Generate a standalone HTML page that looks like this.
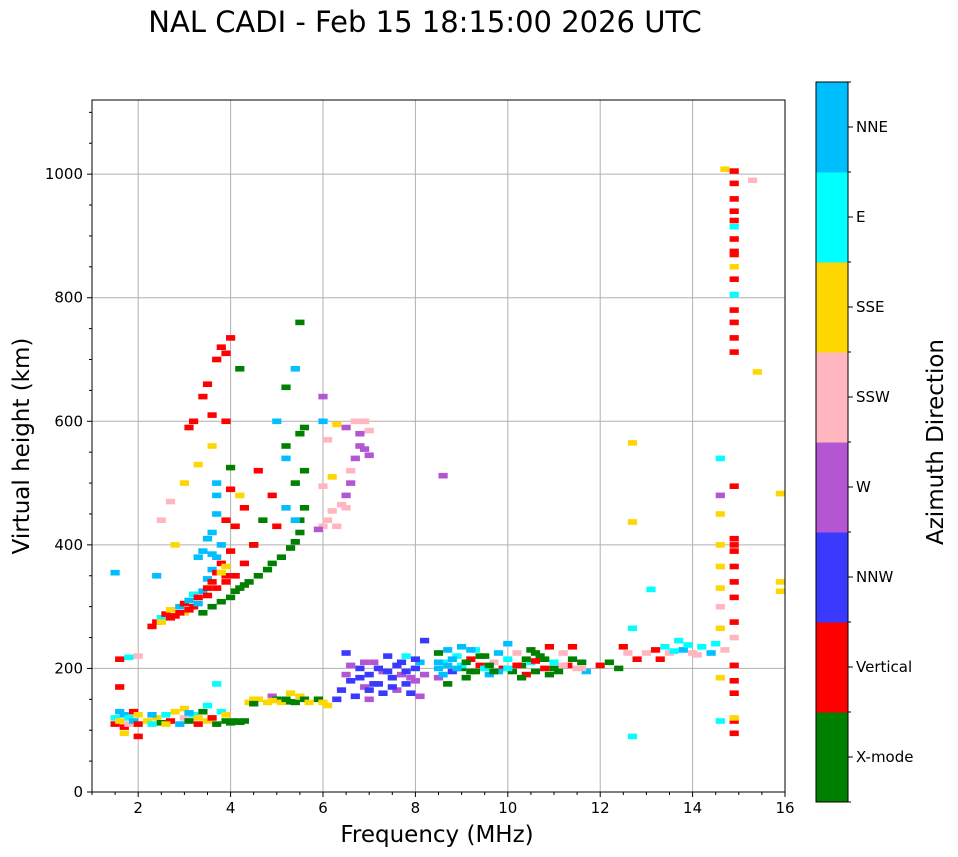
<!DOCTYPE html>
<html><head><meta charset="utf-8">
<style>
html,body{margin:0;padding:0;background:#fff;}
svg{display:block;font-family:"DejaVu Sans","Liberation Sans",sans-serif;}
</style></head>
<body>
<svg id="chart" width="958" height="857" viewBox="0 0 958 857" xmlns="http://www.w3.org/2000/svg">
<text x="425" y="32" font-size="29" text-anchor="middle">NAL CADI - Feb 15 18:15:00 2026 UTC</text>
<g id="grid"></g>
<g id="marks"></g>
<rect x="92" y="100" width="693" height="692" fill="none" stroke="#000" stroke-width="1"/>
<g id="axes"></g>
<text x="437" y="842" font-size="23" text-anchor="middle">Frequency (MHz)</text>
<text transform="translate(29,446) rotate(-90)" font-size="23" text-anchor="middle">Virtual height (km)</text>
<g id="cbar"></g>
<text transform="translate(943,442) rotate(-90)" font-size="23" text-anchor="middle">Azimuth Direction</text>
</svg>
<script>
const azimuthNames = ["X-mode","Vertical","NNW","W","SSW","SSE","E","NNE"];
const azimuthColors = ["#008000","#ff0000","#3a3aff","#b455d4","#ffb6c1","#ffd700","#00ffff","#00bfff"];
const xTicks = [2,4,6,8,10,12,14,16];
const yTicks = [0,200,400,600,800,1000];

const eLayerEchoes = [[1.5,120,6],[1.5,110,1],[1.6,130,7],[1.6,115,5],[1.7,125,7],[1.7,105,1],[1.8,120,6],[1.8,110,4],[1.9,130,1],[1.9,115,7],[2.0,110,1],[2.0,125,5],[2.2,115,5],[2.3,110,6],[2.4,120,5],[2.5,112,0],[2.6,125,6],[2.7,115,1],[2.8,130,5],[2.9,110,7],[3.0,120,4],[3.0,135,5],[3.1,115,0],[3.2,125,6],[3.3,110,1],[3.4,130,0],[3.5,115,5],[3.5,140,6],[3.6,120,1],[3.7,110,0],[3.7,175,6],[3.8,130,6],[3.9,115,0],[4.0,112,0],[4.1,115,0],[4.2,113,0],[4.3,115,0],[4.4,145,5],[4.5,150,5],[4.6,150,5],[4.8,145,5],[4.9,155,3],[5.0,150,0],[5.1,145,5],[5.2,150,0],[5.3,160,5],[5.4,145,0],[5.5,155,5],[5.6,150,0],[5.7,145,5],[5.9,150,0],[6.0,145,5],[6.1,140,5],[1.6,215,1],[1.8,218,6],[2.0,220,4],[2.3,125,7],[2.6,110,5],[3.1,128,7],[3.3,120,5],[3.9,125,5],[4.5,143,0],[4.9,148,5],[5.3,146,0]];
const nnwEchoes = [[6.3,150,2],[6.4,165,2],[6.5,190,3],[6.5,225,2],[6.6,180,2],[6.7,155,2],[6.8,200,2],[6.9,170,3],[7.0,190,2],[7.0,150,3],[7.1,210,3],[7.2,175,2],[7.3,160,2],[7.3,195,3],[7.4,220,2],[7.5,185,2],[7.6,165,3],[7.6,205,2],[7.7,190,3],[7.8,175,2],[7.8,220,6],[7.9,160,2],[8.0,200,2],[8.0,180,3],[8.1,210,7],[8.1,155,3],[8.2,245,2],[8.2,190,3],[6.6,205,3],[7.1,175,2],[7.4,195,2],[7.9,185,3],[6.8,185,2],[7.2,200,2],[7.5,170,2],[7.7,210,2],[7.8,195,2],[8.0,215,2],[7.0,165,2],[6.9,210,3]];
const midFreqEchoes = [[8.5,225,0],[8.5,200,7],[8.5,185,3],[8.6,210,6],[8.7,230,7],[8.7,175,0],[8.8,195,2],[8.9,220,6],[9.0,235,7],[9.0,200,0],[9.1,185,0],[9.2,215,1],[9.3,230,6],[9.3,195,0],[9.4,205,1],[9.5,220,0],[9.6,190,7],[9.7,210,4],[9.8,225,7],[9.9,200,1],[10.0,240,7],[10.0,215,6],[10.1,195,0],[10.2,225,4],[10.3,205,0],[10.4,190,1],[10.5,230,0],[10.5,210,6],[10.6,195,0],[10.7,220,0],[10.8,200,1],[10.9,235,1],[11.0,210,6],[11.1,195,0],[11.2,225,4],[11.3,205,1],[11.4,235,1],[11.5,200,4],[11.6,210,0],[11.7,195,7],[12.0,205,1],[12.2,210,0],[12.4,200,0],[9.0,205,6],[9.5,200,6],[10.6,212,1],[8.5,210,7],[8.7,205,7],[8.9,200,7],[9.1,210,0],[9.2,195,0],[9.4,220,0],[9.6,205,0],[9.8,195,7],[10.0,200,6],[10.2,205,1],[10.4,215,0],[10.6,225,0],[10.8,215,0],[11.0,200,0],[11.2,205,4],[11.4,215,0],[11.6,200,4],[8.6,190,7],[8.8,215,7],[9.2,230,7],[9.7,195,0],[10.3,185,0],[10.9,190,0]];
const upperMidEchoes = [[12.5,235,1],[12.6,225,4],[12.8,215,1],[13.0,225,4],[13.2,230,1],[13.4,235,6],[13.5,225,4],[13.7,245,6],[13.8,230,7],[14.0,225,4],[14.2,235,6],[14.4,225,7],[14.5,240,6],[14.7,230,4],[12.7,265,6],[12.7,90,6],[13.1,328,6],[13.6,228,6],[13.9,238,6],[14.1,222,4],[13.3,215,1]];
const highFreqEchoes = [[14.7,1008,5],[14.9,1005,1],[14.9,985,1],[14.9,960,1],[14.9,940,1],[14.9,915,6],[14.9,895,1],[14.9,875,1],[14.9,850,5],[14.9,830,1],[14.9,805,6],[14.9,780,1],[14.9,760,1],[14.9,735,1],[14.9,712,1],[14.9,495,1],[14.9,410,1],[14.9,390,1],[14.9,365,1],[14.9,340,1],[14.9,315,1],[14.9,275,1],[14.9,250,4],[14.9,205,1],[14.9,180,1],[14.9,160,1],[14.9,115,1],[14.9,95,1],[14.6,540,6],[14.6,480,3],[14.6,450,5],[14.6,400,5],[14.6,365,5],[14.6,330,5],[14.6,300,4],[14.6,265,5],[14.6,185,5],[14.6,115,6],[15.3,990,4],[15.4,680,5],[15.9,483,5],[15.9,340,5],[15.9,325,5],[12.7,565,5],[12.7,437,5],[8.6,512,3],[14.9,925,1],[14.9,870,1],[14.9,400,1],[14.9,120,5]];
const fLayerEchoes = [[3.4,290,0],[3.6,300,0],[3.8,308,0],[4.0,315,0],[4.1,325,0],[4.2,330,0],[4.3,335,0],[4.4,340,0],[4.6,350,0],[4.8,360,0],[4.9,370,0],[5.1,380,0],[5.3,395,0],[5.4,405,0],[5.5,420,0],[5.5,440,0],[5.6,460,0],[5.4,500,0],[5.6,520,0],[5.2,560,0],[5.5,580,0],[5.6,590,0],[5.5,760,0],[4.2,685,0],[4.0,525,0],[4.5,400,0],[5.2,655,0],[4.7,440,0],[2.3,268,1],[2.4,275,1],[2.5,282,6],[2.6,288,1],[2.7,295,5],[2.8,285,1],[2.9,300,7],[3.0,305,1],[3.0,290,5],[3.1,310,7],[3.2,300,1],[3.2,320,6],[3.3,315,1],[3.4,325,7],[3.5,330,1],[3.5,345,7],[3.6,340,1],[3.6,360,7],[3.7,355,1],[3.7,380,7],[3.8,370,1],[3.8,400,7],[3.9,350,1],[3.9,365,5],[3.6,420,7],[3.7,450,7],[3.7,480,7],[3.7,500,7],[3.4,390,7],[3.5,410,7],[4.0,390,1],[4.1,430,1],[4.2,480,5],[4.0,490,1],[3.9,440,1],[3.3,380,7],[2.7,470,4],[2.5,440,4],[3.0,500,5],[3.2,600,1],[3.1,590,1],[3.4,640,1],[3.5,660,1],[3.7,700,1],[3.9,710,1],[4.0,735,1],[3.8,720,1],[3.6,610,1],[3.3,530,5],[3.6,560,5],[3.9,600,1],[4.3,460,1],[4.5,400,1],[4.9,480,1],[4.6,520,1],[5.0,430,1],[5.2,460,7],[5.4,440,7],[5.4,685,7],[5.2,540,7],[5.0,600,7],[6.0,600,7],[6.0,640,3],[2.8,400,5],[2.4,350,7],[1.5,355,7],[1.6,170,1],[2.0,90,1],[1.7,95,5],[2.5,275,5],[2.7,282,1],[2.9,290,1],[3.1,295,1],[3.3,305,7],[3.5,318,1],[3.7,330,1],[3.9,340,1],[4.1,350,1],[4.3,370,1],[3.6,385,7],[3.8,355,5]];
const sswEchoes = [[6.0,430,4],[6.1,440,4],[6.2,455,4],[6.3,430,4],[6.4,465,4],[6.5,480,3],[6.5,460,4],[6.6,500,3],[6.6,520,4],[6.7,540,3],[6.8,560,3],[6.8,580,3],[6.9,555,3],[6.9,600,4],[7.0,585,4],[7.0,545,3],[6.5,590,3],[6.3,595,5],[6.1,570,4],[6.2,510,5],[6.0,495,4],[5.9,425,3],[6.7,600,4]];

const NS="http://www.w3.org/2000/svg";
const X0=92,X1=785,Y0=792,Y1=100,FMIN=1,FMAX=16,HMIN=0,HMAX=1120;
function xScale(f){return X0+(f-FMIN)/(FMAX-FMIN)*(X1-X0);}
function yScale(h){return Y0-(h-HMIN)/(HMAX-HMIN)*(Y0-Y1);}
function mk(tag,attrs,parent){const e=document.createElementNS(NS,tag);for(const k in attrs)e.setAttribute(k,attrs[k]);parent.appendChild(e);return e;}
const grid=document.getElementById('grid'),axes=document.getElementById('axes'),marks=document.getElementById('marks'),cbar=document.getElementById('cbar');

xTicks.forEach(t=>{
  const x=xScale(t);
  if(t<FMAX){const g=mk('line',{x1:x,x2:x,y1:Y1,y2:Y0,stroke:'#b0b0b0','stroke-width':1},grid);
  
  }
  mk('line',{x1:x,x2:x,y1:Y0,y2:Y0+5,stroke:'#000'},axes);
  const tx=mk('text',{x:x,y:Y0+21,'font-size':15,'text-anchor':'middle'},axes);
  tx.textContent=t;
  
  
});
for(let f=1;f<=16;f+=0.5){if(xTicks.indexOf(f)<0)mk('line',{x1:xScale(f),x2:xScale(f),y1:Y0,y2:Y0+3,stroke:'#000'},axes);}
yTicks.forEach(t=>{
  const y=yScale(t);
  if(t>0){const g=mk('line',{x1:X0,x2:X1,y1:y,y2:y,stroke:'#b0b0b0','stroke-width':1},grid);
  
  }
  mk('line',{x1:X0-5,x2:X0,y1:y,y2:y,stroke:'#000'},axes);
  const tx=mk('text',{x:X0-9,y:y+5,'font-size':15,'text-anchor':'end'},axes);
  tx.textContent=t;
  
  
});
for(let h=50;h<=1100;h+=50){if(h%200)mk('line',{x1:X0-3,x2:X0,y1:yScale(h),y2:yScale(h),stroke:'#000'},axes);}

const cellW=0.2, cellH=9;
[eLayerEchoes,nnwEchoes,midFreqEchoes,upperMidEchoes,highFreqEchoes,fLayerEchoes,sswEchoes].forEach(arr=>{
  arr.forEach(p=>{
    const x=xScale(p[0]-cellW/2), y=yScale(p[1]+cellH/2);
    const r=mk('rect',{x:x.toFixed(1),y:y.toFixed(1),width:(xScale(p[0]+cellW/2)-x).toFixed(1),height:(yScale(p[1]-cellH/2)-y).toFixed(1),fill:azimuthColors[p[2]]},marks);
    
    
  });
});

const CB_X=816,CB_W=32,CB_TOP=82,CB_BOT=802,segH=(CB_BOT-CB_TOP)/azimuthNames.length;
azimuthNames.forEach((n,i)=>{
  const y=CB_BOT-(i+1)*segH;
  const r=mk('rect',{x:CB_X,y:y,width:CB_W,height:segH+0.5,fill:azimuthColors[i]},cbar);
  
  
  mk('line',{x1:CB_X+CB_W,x2:CB_X+CB_W+5,y1:y+segH/2,y2:y+segH/2,stroke:'#000'},cbar);
  const t=mk('text',{x:CB_X+CB_W+8,y:y+segH/2+5,'font-size':15},cbar);
  t.textContent=n;
  
  
});
for(let i=0;i<=azimuthNames.length;i++){const y=CB_BOT-i*segH;mk('line',{x1:CB_X+CB_W,x2:CB_X+CB_W+3,y1:y,y2:y,stroke:'#000'},cbar);}
mk('rect',{x:CB_X,y:CB_TOP,width:CB_W,height:CB_BOT-CB_TOP,fill:'none',stroke:'#000'},cbar);
</script>
</body></html>
